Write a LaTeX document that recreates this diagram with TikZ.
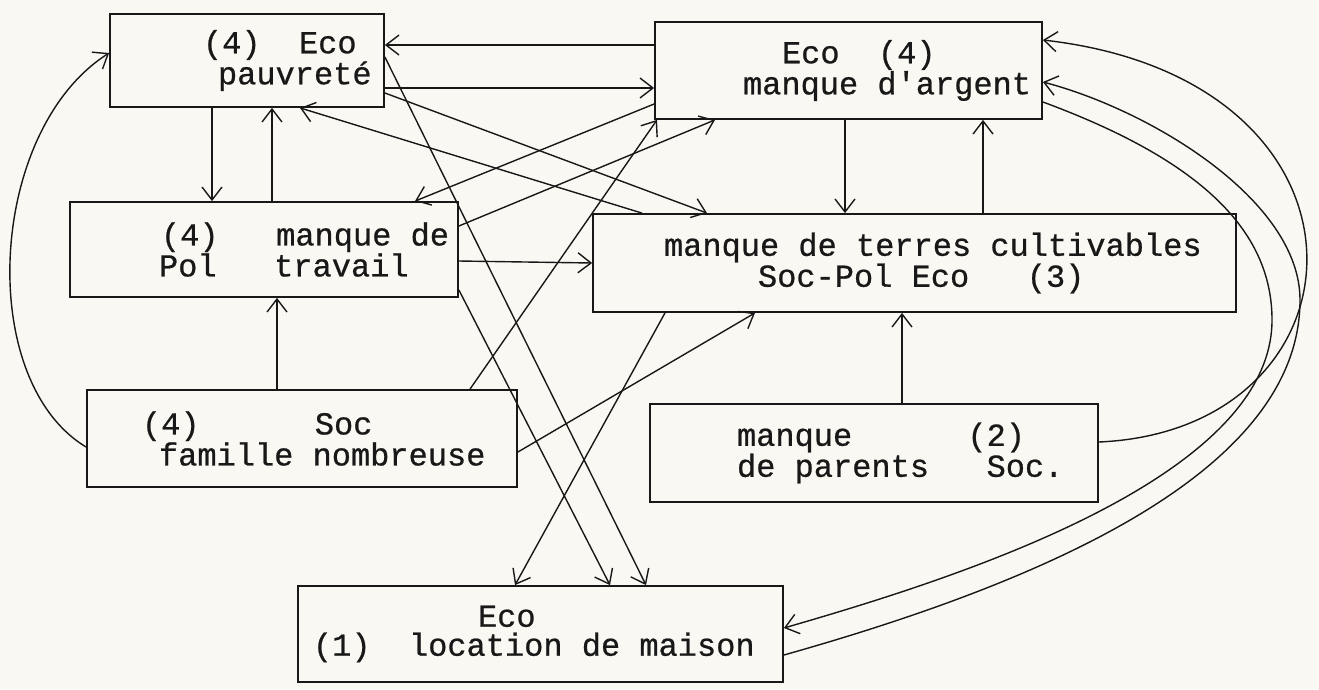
\documentclass[tikz,border=0pt]{standalone}
\usepackage{fontspec}
\newfontfamily\typewriter[FakeBold=0.7]{Liberation Mono}
\usetikzlibrary{arrows.meta}
\definecolor{paper}{RGB}{250,248,243}
\definecolor{ink}{RGB}{24,24,24}
% one full character cell of the monospaced face
\newcommand{\gp}{\hphantom{0}}
\begin{document}
\begin{tikzpicture}[x=1pt, y=-1pt,
  box/.style={draw=ink, line width=1.8pt, inner xsep=0pt, inner ysep=0pt,
    align=left, text=ink, font=\fontsize{32}{31}\selectfont\typewriter},
  link/.style={draw=ink, line width=1.4pt,
    -{Straight Barb[length=13pt,width=20pt]}},
]
\fill[paper] (0,0) rectangle (1319,689);
\useasboundingbox (0,0) rectangle (1319,689);

% boxes
\node[box, text width=274pt, minimum height=93pt] (A) at (247,60.5)
  {\hspace*{93pt}(4)\gp\gp Eco\\\hspace*{108pt}pauvreté};
\node[box, text width=387pt, minimum height=97pt] (B) at (848.5,70.5)
  {\hspace*{127pt}Eco\gp\gp(4)\\\hspace*{88pt}manque\gp d\textquotesingle argent};
\node[box, text width=388pt, minimum height=95pt] (C) at (264,249.5)
  {\hspace*{91pt}(4)\gp\gp\gp manque\gp de\\\hspace*{89pt}Pol\gp\gp\gp travail};
\node[box, text width=643pt, minimum height=98pt] (D) at (914.5,263)
  {\hspace*{71pt}manque\gp de\gp terres\gp cultivables\\\hspace*{165pt}Soc-Pol\gp Eco\gp\gp\gp(3)};
\node[box, text width=430pt, minimum height=97pt] (E) at (302,438.5)
  {\hspace*{55pt}(4)\gp\gp\gp\gp\gp\gp Soc\\\hspace*{72pt}famille\gp nombreuse};
\node[box, text width=448pt, minimum height=98pt] (F) at (874,453)
  {\hspace*{87pt}manque\gp\gp\gp\gp\gp\gp(2)\\\hspace*{87pt}de\gp parents\gp\gp\gp Soc.};
\node[box, text width=485pt, minimum height=96pt,
  font=\fontsize{32}{29}\selectfont\typewriter] (G) at (540.5,634)
  {\hspace*{180pt}Eco\\\hspace*{15pt}(1)\gp\gp location\gp de\gp maison};

% straight connectors
\draw[link] (B.west |- 0,45) -- (A.east |- 0,45);
\draw[link] (A.east |- 0,88) -- (B.west |- 0,88);
\draw[link] (A.south -| 212,0) -- (C.north -| 212,0);
\draw[link] (C.north -| 272,0) -- (A.south -| 272,0);
\draw[link] (B.south -| 845,0) -- (D.north -| 845,0);
\draw[link] (D.north -| 983,0) -- (B.south -| 983,0);
\draw[link] (C.east |- 0,261) -- (D.west |- 0,263);
\draw[link] (E.north -| 277,0) -- (C.south -| 277,0);
\draw[link] (F.north -| 902,0) -- (D.south -| 902,0);
\draw[link] (A.east |- 0,93) -- (D.north -| 707,0);
\draw[link] (D.north -| 642,0) -- (A.south -| 300,0);
\draw[link] (B.west |- 0,104) -- (C.north -| 415,0);
\draw[link] (C.east |- 0,226) -- (B.south -| 715,0);
\draw[link] (E.north -| 470,0) -- (B.south -| 657,0);
\draw[link] (E.east |- 0,452) -- (D.south -| 755,0);
\draw[link] (A.east |- 0,57) -- (G.north -| 646,0);
\draw[link] (C.east |- 0,290) -- (G.north -| 610,0);
\draw[link] (D.south -| 665,0) -- (G.north -| 515,0);

% curved connectors
\draw[link] (E.west |- 0,447) .. controls (-25,380) and (-12,130) .. (A.west |- 0,53);
\draw[link] (F.east |- 0,442) .. controls (1375,430) and (1395,80) .. (B.east |- 0,40);
\draw[link] (G.east |- 0,655) .. controls (1050,580) and (1300,470) .. (1300,300)
  .. controls (1300,200) and (1150,110) .. (B.east |- 0,82);
\draw[link] (B.east |- 0,102) .. controls (1200,160) and (1272,230) .. (1272,320)
  .. controls (1272,480) and (950,580) .. (G.east |- 0,628);
\end{tikzpicture}
\end{document}
